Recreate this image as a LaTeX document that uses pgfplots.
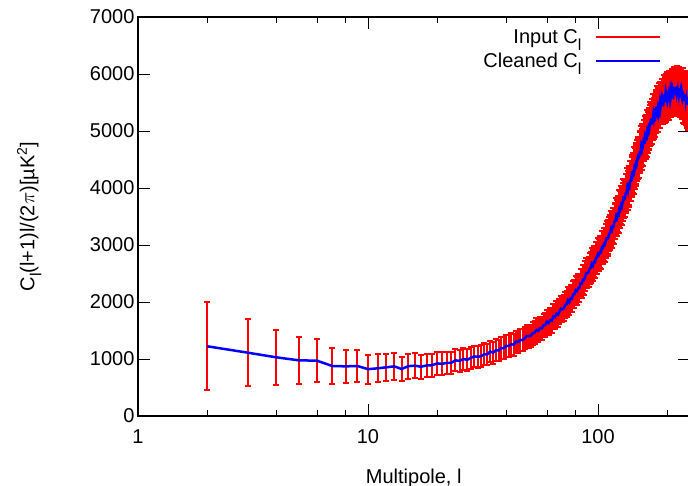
\documentclass[border=0pt]{standalone}
\usepackage{fontspec}
\setmainfont{Liberation Sans}
\usepackage{pgfplots}
\usepackage{pgfplotstable}
\pgfplotsset{compat=1.18}
\newcommand{\lsub}{\raisebox{-0.35em}{\fontsize{16}{16}\selectfont l}}

% l, C_l l(l+1)/2pi, error
\pgfplotstableread{
ell cl err
2 1223 770
3 1111 590
4 1029 485
5 977 415
6 970 380
7 877 322
8 871 295
9 877 285
10 822 253
11 836 248
12 854 242
13 871 240
14 825 217
15 875 220
16 883 216
17 864 210
18 888 204
19 891 203
20 923 200
21 915 200
22 932 196
23 932 196
24 976 194
25 967 193
26 1000 192
27 986 191
28 1019 190
29 1046 190
30 1039 189
31 1048 189
32 1083 189
33 1083 187
34 1130 189
35 1109 189
36 1156 190
37 1149 190
38 1192 190
39 1191 190
40 1233 191
41 1230 192
42 1257 193
43 1252 193
44 1304 193
45 1302 194
46 1335 194
47 1331 195
48 1364 195
49 1401 197
50 1399 198
51 1408 197
52 1453 199
53 1463 199
54 1510 201
55 1494 202
56 1541 203
57 1539 204
58 1592 206
59 1596 207
60 1657 209
61 1632 210
62 1679 212
63 1668 213
64 1750 215
65 1736 216
66 1793 218
67 1775 219
68 1837 221
69 1883 222
70 1870 224
71 1889 226
72 1949 227
73 1961 229
74 2030 231
75 1997 233
76 2065 235
77 2057 237
78 2136 239
79 2138 240
80 2207 242
81 2192 245
82 2244 247
83 2243 249
84 2330 251
85 2326 253
86 2393 255
87 2385 258
88 2452 260
89 2508 262
90 2505 264
91 2524 266
92 2589 268
93 2601 269
94 2670 271
95 2637 273
96 2705 274
97 2697 276
98 2776 278
99 2778 279
100 2847 281
101 2827 282
102 2879 284
103 2873 286
104 2960 287
105 2951 289
106 3013 290
107 3000 292
108 3067 294
109 3118 295
110 3110 297
111 3134 299
112 3199 300
113 3216 302
114 3290 304
115 3262 306
116 3335 308
117 3332 310
118 3416 312
119 3423 314
120 3510 316
121 3475 318
122 3540 320
123 3525 321
124 3640 323
125 3620 325
126 3700 327
127 3675 329
128 3755 331
129 3820 332
130 3800 334
131 3820 336
132 3905 338
133 3915 339
134 4005 341
135 3950 343
136 4040 345
137 4020 346
138 4125 348
139 4125 350
140 4220 352
141 4190 353
142 4263 355
143 4248 356
144 4363 357
145 4343 358
146 4423 358
147 4398 359
148 4478 359
149 4543 360
150 4523 360
151 4543 360
152 4628 360
153 4638 360
154 4728 360
155 4673 360
156 4763 360
157 4743 360
158 4841 360
159 4828 360
160 4910 360
161 4867 360
162 4924 360
163 4901 360
164 5008 360
165 4980 360
166 5052 360
167 5019 360
168 5091 360
169 5148 360
170 5120 360
171 5130 360
172 5205 360
173 5205 360
174 5285 360
175 5218 360
176 5295 360
177 5261 360
178 5351 360
179 5330 360
180 5430 355
181 5336 355
182 5401 355
183 5338 355
184 5482 355
185 5409 355
186 5496 355
187 5414 355
188 5500 355
189 5561 355
190 5486 355
191 5474 355
192 5566 355
193 5537 355
194 5636 355
195 5502 355
196 5599 355
197 5520 355
198 5640 355
199 5584 355
200 5679 355
201 5574 355
202 5629 355
203 5556 355
204 5690 355
205 5608 355
206 5686 355
207 5596 355
208 5674 355
209 5728 355
210 5645 355
211 5626 355
212 5711 355
213 5676 355
214 5769 355
215 5630 355
216 5722 355
217 5638 355
218 5754 355
219 5693 355
220 5784 355
221 5672 360
222 5718 363
223 5634 366
224 5756 369
225 5660 372
226 5724 375
227 5620 378
228 5684 381
229 5724 384
230 5628 387
231 5596 390
232 5668 393
233 5620 396
234 5700 399
235 5548 402
236 5628 405
237 5532 408
238 5636 411
239 5564 414
240 5644 417
241 5524 420
242 5564 423
243 5476 426
244 5596 429
245 5500 432
246 5564 435
247 5460 438
248 5524 441
249 5564 444
250 5468 447
}\cldata

\begin{document}
\begin{tikzpicture}
\path[use as bounding box] (-138pt,-70pt) rectangle (550pt,416pt);
\begin{axis}[
    at={(0,0)}, anchor=south west,
    scale only axis,
    width=551.5pt, height=399pt,
    clip mode=individual,
    xmode=log,
    xmin=1, xmax=250,
    ymin=0, ymax=7000,
    xtick={1,10,100},
    xticklabels={1,10,100},
    minor xtick={2,4,6,8,20,40,60,80,200},
    ytick={0,1000,2000,3000,4000,5000,6000,7000},
    yticklabels={0,1000,2000,3000,4000,5000,6000,7000},
    major tick length=12pt,
    minor tick length=6pt,
    tick align=inside,
    tick style={black, line width=0.9pt},
    axis line style={black, line width=1.3pt},
    tick label style={font=\fontsize{20}{24}\selectfont},
    xticklabel style={yshift=-10pt},
    label style={font=\fontsize{20}{24}\selectfont},
    xlabel={Multipole, l},
    xlabel style={at={(axis description cs:0.5,-0.168)}, anchor=base},
    ylabel={C\lsub(l+1)l/(2$\pi$)[\textmu K\textsuperscript{2}]},
    ylabel style={at={(axis description cs:-0.188,0.5)}, anchor=base},
    legend plot pos=right,
    legend cell align=right,
    legend style={draw=none, fill=none,
        at={(axis description cs:0.955,0.98)}, anchor=north east,
        font=\fontsize{20}{24}\selectfont,
        row sep=4pt,
        /tikz/every odd column/.append style={column sep=12pt}},
]

% input spectrum with error bars
\addplot[red, draw=none, mark=none,
    legend image code/.code={\draw[red, line width=1.5pt] (0pt,0pt) -- (64pt,0pt);},
    error bars/.cd, y dir=both, y explicit,
    error mark=-,
    error bar style={draw=red, line width=2pt},
    error mark options={draw=red, line width=2pt, mark size=3pt, rotate=90}]
    table[x=ell, y=cl, y error=err] {\cldata};
\addlegendentry{Input C\lsub}

% cleaned spectrum
\addplot[blue, line width=2.5pt, mark=none,
    legend image code/.code={\draw[blue, line width=2pt] (0pt,0pt) -- (64pt,0pt);}]
    table[x=ell, y=cl] {\cldata};
\addlegendentry{Cleaned C\lsub}

\end{axis}
\end{tikzpicture}
\end{document}
